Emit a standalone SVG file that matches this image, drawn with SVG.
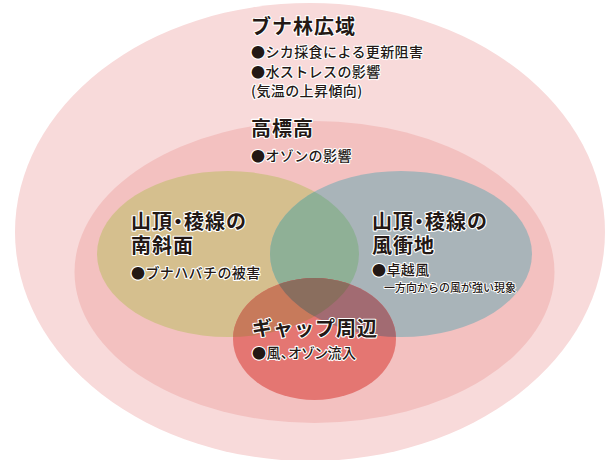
<svg xmlns="http://www.w3.org/2000/svg" width="607" height="460" viewBox="0 0 607 460">
<style>
text{font-family:"Noto Sans CJK JP","Noto Sans",sans-serif;fill:#231815;stroke:#ffffff;stroke-width:2.2;stroke-linejoin:round;paint-order:stroke}
.t{font-size:20px;font-weight:700;letter-spacing:1px}
.i{font-size:14px;font-weight:500;letter-spacing:0.4px}
.s{font-size:11px;font-weight:500;stroke-width:1.8}
.p{font-feature-settings:"palt"}
</style>
<defs>
<clipPath id="cTan"><ellipse cx="228" cy="254" rx="131" ry="83"/></clipPath>
<clipPath id="cBlue"><ellipse cx="401" cy="254" rx="131" ry="83"/></clipPath>
</defs>
<rect width="607" height="460" fill="#ffffff"/>
<g id="beech-forest">
<ellipse cx="310" cy="232" rx="295" ry="229" fill="#f8dada"/>
<text class="t" x="251" y="34">ブナ林広域</text>
<text class="i" x="251" y="57">●シカ採食による更新阻害</text>
<text class="i" x="251" y="77">●水ストレスの影響</text>
<text class="i" x="251" y="96">(気温の上昇傾向)</text>
</g>
<g id="high-altitude">
<ellipse cx="314.5" cy="272" rx="240" ry="151" fill="#f3c1c0"/>
<text class="t" x="251" y="136">高標高</text>
<text class="i" x="251" y="161">●オゾンの影響</text>
</g>
<g id="south-slope">
<ellipse cx="228" cy="254" rx="131" ry="83" fill="#d5bf8e"/>
</g>
<g id="windward">
<ellipse cx="401" cy="254" rx="131" ry="83" fill="#a9b4b9"/>
<g clip-path="url(#cTan)"><ellipse cx="401" cy="254" rx="131" ry="83" fill="#8fb096"/></g>
</g>
<g id="gap">
<ellipse cx="314.5" cy="339" rx="81.5" ry="61" fill="#e47672"/>
<g clip-path="url(#cTan)"><ellipse cx="314.5" cy="339" rx="81.5" ry="61" fill="#c77a5b"/></g>
<g clip-path="url(#cBlue)"><ellipse cx="314.5" cy="339" rx="81.5" ry="61" fill="#a26b72"/></g>
<g clip-path="url(#cTan)"><g clip-path="url(#cBlue)"><ellipse cx="314.5" cy="339" rx="81.5" ry="61" fill="#8a6e5e"/></g></g>
</g>
<g id="connectors"></g>
<g id="south-slope-label">
<text class="t p" x="131" y="229">山頂・稜線の</text>
<text class="t" x="131" y="253">南斜面</text>
<text class="i" x="131" y="278">●ブナハバチの被害</text>
</g>
<g id="windward-label">
<text class="t p" x="372" y="229">山頂・稜線の</text>
<text class="t" x="372" y="253">風衝地</text>
<text class="i" x="372" y="275">●卓越風</text>
<text class="s" x="384" y="292">一方向からの風が強い現象</text>
</g>
<g id="gap-label">
<text class="t" x="252" y="336">ギャップ周辺</text>
<text class="i p" x="252" y="358">●風、オゾン流入</text>
</g>
</svg>
